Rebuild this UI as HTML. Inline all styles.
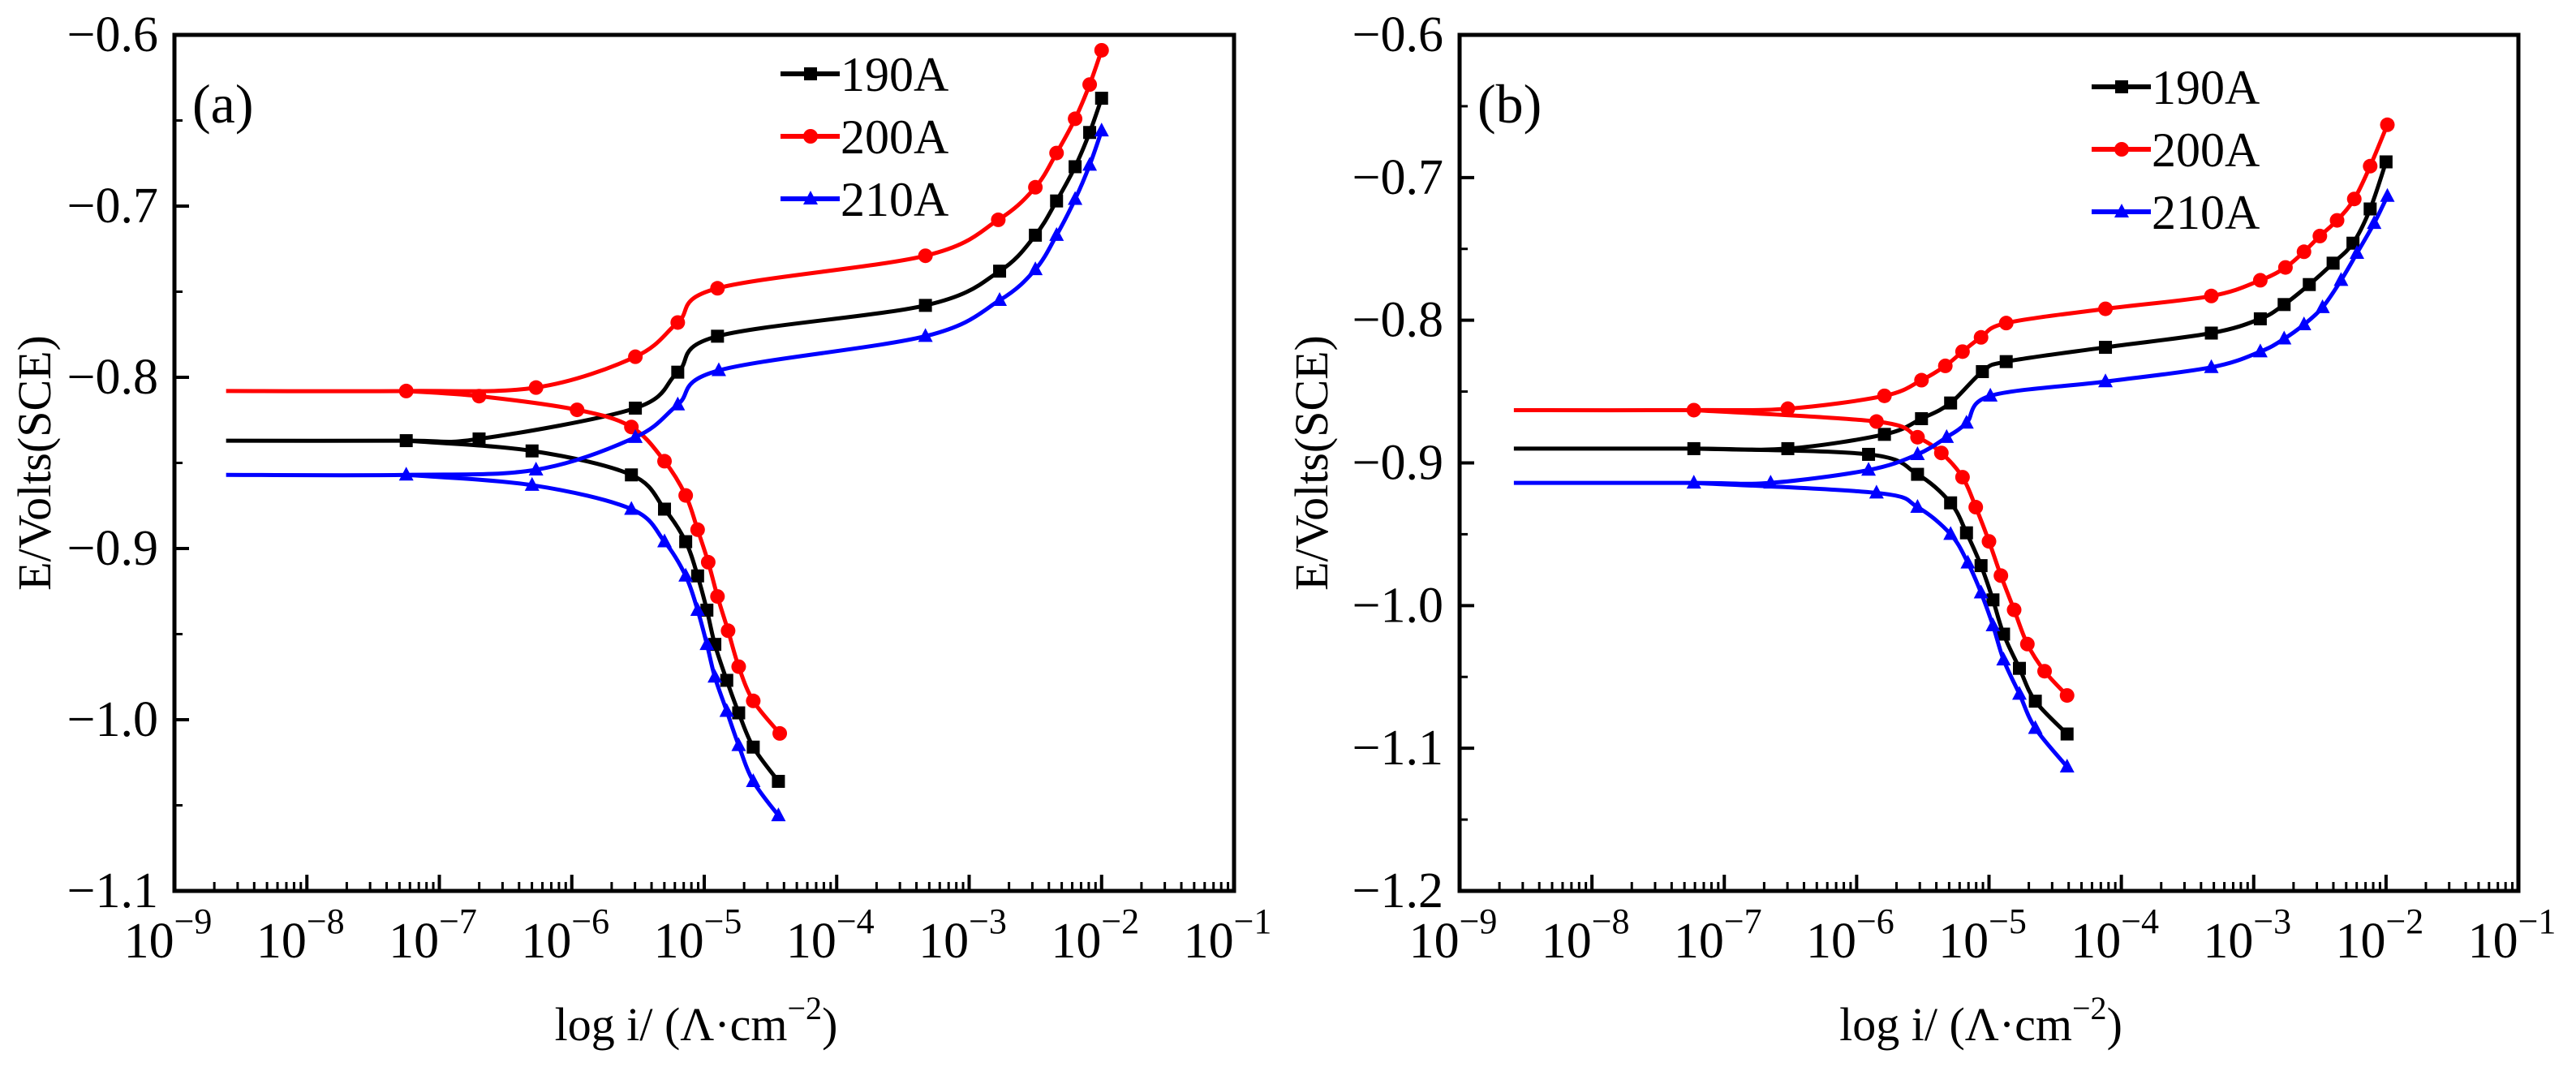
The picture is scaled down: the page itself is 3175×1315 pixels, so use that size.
<!DOCTYPE html>
<html><head><meta charset="utf-8">
<style>
html,body{margin:0;padding:0;background:#fff;}
svg{display:block;font-family:"Liberation Serif",serif;}
</style></head>
<body>
<svg id="chart" width="3175" height="1315" viewBox="0 0 3175 1315" xmlns="http://www.w3.org/2000/svg"></svg>
<script>
// ---- Panel (a) data: [log10(i), E] ----
const aSeries = ['190A','200A','210A'];
const a190Anodic = [[-8.61,-0.837],[-7.25,-0.837],[-6.7,-0.836],[-5.52,-0.818],[-5.2,-0.797],[-4.9,-0.776],[-3.33,-0.758],[-2.77,-0.738],[-2.5,-0.717],[-2.34,-0.697],[-2.2,-0.677],[-2.09,-0.657],[-2.0,-0.637]];
const a190Cathodic = [[-7.25,-0.837],[-6.3,-0.843],[-5.55,-0.857],[-5.3,-0.877],[-5.14,-0.896],[-5.05,-0.916],[-4.98,-0.936],[-4.92,-0.956],[-4.83,-0.977],[-4.74,-0.996],[-4.63,-1.016],[-4.44,-1.036]];
const a200Anodic = [[-8.61,-0.808],[-7.25,-0.808],[-6.27,-0.806],[-5.52,-0.788],[-5.2,-0.768],[-4.9,-0.748],[-3.33,-0.729],[-2.78,-0.708],[-2.5,-0.689],[-2.34,-0.669],[-2.2,-0.649],[-2.09,-0.629],[-2.0,-0.609]];
const a200Cathodic = [[-7.25,-0.808],[-6.7,-0.811],[-5.96,-0.819],[-5.55,-0.829],[-5.3,-0.849],[-5.14,-0.869],[-5.05,-0.889],[-4.97,-0.908],[-4.9,-0.928],[-4.82,-0.948],[-4.74,-0.969],[-4.63,-0.989],[-4.43,-1.008]];
const a210Anodic = [[-8.61,-0.857],[-7.25,-0.857],[-6.27,-0.854],[-5.52,-0.835],[-5.2,-0.816],[-4.89,-0.796],[-3.33,-0.776],[-2.77,-0.755],[-2.5,-0.737],[-2.34,-0.717],[-2.2,-0.696],[-2.09,-0.676],[-2.0,-0.656]];
const a210Cathodic = [[-7.25,-0.857],[-6.3,-0.863],[-5.55,-0.877],[-5.3,-0.896],[-5.14,-0.916],[-5.05,-0.936],[-4.98,-0.956],[-4.92,-0.975],[-4.83,-0.995],[-4.74,-1.015],[-4.63,-1.036],[-4.44,-1.056]];
// ---- Panel (b) data ----
const b190Anodic = [[-8.59,-0.890],[-7.23,-0.890],[-6.52,-0.890],[-5.79,-0.880],[-5.51,-0.869],[-5.29,-0.858],[-5.05,-0.836],[-4.87,-0.829],[-4.12,-0.819],[-3.32,-0.809],[-2.95,-0.799],[-2.77,-0.789],[-2.58,-0.775],[-2.4,-0.760],[-2.25,-0.746],[-2.12,-0.722],[-2.0,-0.689]];
const b190Cathodic = [[-7.23,-0.890],[-5.91,-0.894],[-5.54,-0.908],[-5.29,-0.928],[-5.17,-0.949],[-5.06,-0.972],[-4.97,-0.996],[-4.89,-1.020],[-4.77,-1.044],[-4.65,-1.067],[-4.41,-1.090]];
const b200Anodic = [[-8.59,-0.863],[-7.23,-0.863],[-6.52,-0.862],[-5.79,-0.853],[-5.51,-0.842],[-5.33,-0.832],[-5.2,-0.822],[-5.06,-0.812],[-4.87,-0.802],[-4.12,-0.792],[-3.32,-0.783],[-2.95,-0.772],[-2.76,-0.763],[-2.62,-0.752],[-2.5,-0.741],[-2.37,-0.730],[-2.24,-0.715],[-2.12,-0.692],[-1.99,-0.663]];
const b200Cathodic = [[-7.23,-0.863],[-5.85,-0.871],[-5.54,-0.882],[-5.36,-0.893],[-5.2,-0.910],[-5.1,-0.931],[-5.0,-0.955],[-4.91,-0.979],[-4.81,-1.003],[-4.71,-1.027],[-4.58,-1.046],[-4.41,-1.063]];
const b210Anodic = [[-8.59,-0.914],[-7.23,-0.914],[-6.65,-0.914],[-5.91,-0.905],[-5.54,-0.894],[-5.32,-0.882],[-5.17,-0.872],[-4.99,-0.853],[-4.12,-0.843],[-3.32,-0.833],[-2.95,-0.822],[-2.77,-0.813],[-2.62,-0.803],[-2.48,-0.791],[-2.34,-0.772],[-2.22,-0.753],[-2.09,-0.732],[-1.99,-0.713]];
const b210Cathodic = [[-7.23,-0.914],[-5.85,-0.921],[-5.54,-0.931],[-5.29,-0.950],[-5.16,-0.970],[-5.06,-0.991],[-4.97,-1.014],[-4.89,-1.038],[-4.77,-1.062],[-4.65,-1.086],[-4.41,-1.113]];
const xTickExps = [-9,-8,-7,-6,-5,-4,-3,-2,-1];
const aYTicks = [-0.6,-0.7,-0.8,-0.9,-1.0,-1.1];
const bYTicks = [-0.6,-0.7,-0.8,-0.9,-1.0,-1.1,-1.2];

const NS='http://www.w3.org/2000/svg';
const svg=document.getElementById('chart');
function mk(tag,attrs,parent){const e=document.createElementNS(NS,tag);for(const k in attrs)e.setAttribute(k,attrs[k]);(parent||svg).appendChild(e);return e;}

function smoothPath(pts){
  let d='M'+pts[0][0]+','+pts[0][1];
  for(let i=0;i<pts.length-1;i++){
    const p0=pts[Math.max(0,i-1)],p1=pts[i],p2=pts[i+1],p3=pts[Math.min(pts.length-1,i+2)];
    const c1x=p1[0]+(p2[0]-p0[0])/6,c1y=p1[1]+(p2[1]-p0[1])/6;
    const c2x=p2[0]-(p3[0]-p1[0])/6,c2y=p2[1]-(p3[1]-p1[1])/6;
    d+=' C'+c1x+','+c1y+' '+c2x+','+c2y+' '+p2[0]+','+p2[1];
  }
  return d;
}
function marker(g,type,x,y,color){
  let m;
  if(type==='sq'){m=mk('rect',{x:x-8,y:y-8,width:16,height:16,fill:color},g);}
  else if(type==='ci'){m=mk('circle',{cx:x,cy:y,r:9,fill:color},g);}
  else {m=mk('polygon',{points:(x)+','+(y-10)+' '+(x-9)+','+(y+7)+' '+(x+9)+','+(y+7),fill:color},g);}
  
  
}

function panel(cfg){
  const g=mk('g',{});
  
  
  const L=cfg.L,R=cfg.R,T=cfg.T,B=cfg.B;
  const sx=v=>L+(v+9)/8*(R-L);
  const sy=v=>T+(cfg.ymax-v)/(cfg.ymax-cfg.ymin)*(B-T);
  const fr=mk('rect',{x:L,y:T,width:R-L,height:B-T,fill:'none',stroke:'#000','stroke-width':5},g);
  
  xTickExps.forEach(e=>{
    const x=sx(e);
    mk('line',{x1:x,y1:B,x2:x,y2:B-20,stroke:'#000','stroke-width':4},g);
    const t=mk('text',{x:x-8,y:B+82,'font-size':62,'text-anchor':'middle'},g);
    
    t.textContent='10';
    const s=mk('tspan',{'font-size':44,dy:-30},t);s.textContent='\u2212'+(-e);
    if(e<-1){[2,3,4,5,6,7,8,9].forEach(m=>{const xm=sx(e+Math.log10(m));mk('line',{x1:xm,y1:B,x2:xm,y2:B-11,stroke:'#000','stroke-width':3},g);});}
  });
  const yt=cfg.yticks;
  yt.forEach((v,i)=>{
    const y=sy(v);
    mk('line',{x1:L,y1:y,x2:L+18,y2:y,stroke:'#000','stroke-width':4},g);
    if(i<yt.length-1){const ym=sy(v-0.05);mk('line',{x1:L,y1:ym,x2:L+10,y2:ym,stroke:'#000','stroke-width':3},g);}
    const t=mk('text',{x:L-20,y:y+20,'font-size':62,'text-anchor':'end'},g);
    
    t.textContent='\u2212'+Math.abs(v).toFixed(1);
  });
  const yt2=mk('text',{x:0,y:0,'font-size':58,'text-anchor':'middle',transform:'translate('+cfg.ytx+','+((T+B)/2)+') rotate(-90)'},g);
  
  yt2.textContent='E/Volts(SCE)';
  const xt=mk('text',{x:(L+R)/2-10,y:1282,'font-size':58,'text-anchor':'middle'},g);
  
  xt.textContent='log i/ (\u039B\u00B7cm';
  const xs=mk('tspan',{'font-size':40,dy:-26},xt);xs.textContent='\u22122';
  const xe=mk('tspan',{'font-size':58,dy:26},xt);xe.textContent=')';
  const pl=mk('text',{x:L+22,y:T+108,'font-size':68},g);
  
  pl.textContent=cfg.label;
  cfg.series.forEach((s,si)=>{
    const sg=mk('g',{},g);
    
    
    [s.an,s.ca].forEach(arr=>{
      const pts=arr.map(p=>[sx(p[0]),sy(p[1])]);
      const p=mk('path',{d:smoothPath(pts),fill:'none',stroke:s.color,'stroke-width':5},sg);
      
      pts.slice(1).forEach(q=>marker(sg,s.m,q[0],q[1],s.color));
    });
    const ly=cfg.legY[si];
    const lg=mk('g',{},g);
    
    mk('line',{x1:cfg.legX,y1:ly,x2:cfg.legX+73,y2:ly,stroke:s.color,'stroke-width':6},lg);
    marker(lg,s.m,cfg.legX+37,ly,s.color);
    const lt=mk('text',{x:cfg.legX+74,y:ly+21,'font-size':60},lg);
    lt.textContent=aSeries[si];
  });
}
panel({name:'panel-a',label:'(a)',L:215,R:1521,T:43,B:1098,ymax:-0.6,ymin:-1.1,yticks:aYTicks,ytx:62,legX:962,legY:[91,168,245],
  series:[{an:a190Anodic,ca:a190Cathodic,color:'#000',m:'sq'},{an:a200Anodic,ca:a200Cathodic,color:'#ff0000',m:'ci'},{an:a210Anodic,ca:a210Cathodic,color:'#0000ff',m:'tr'}]});
panel({name:'panel-b',label:'(b)',L:1799,R:3104,T:43,B:1098,ymax:-0.6,ymin:-1.2,yticks:bYTicks,ytx:1636,legX:2578,legY:[107,184,261],
  series:[{an:b190Anodic,ca:b190Cathodic,color:'#000',m:'sq'},{an:b200Anodic,ca:b200Cathodic,color:'#ff0000',m:'ci'},{an:b210Anodic,ca:b210Cathodic,color:'#0000ff',m:'tr'}]});
</script>
</body></html>
